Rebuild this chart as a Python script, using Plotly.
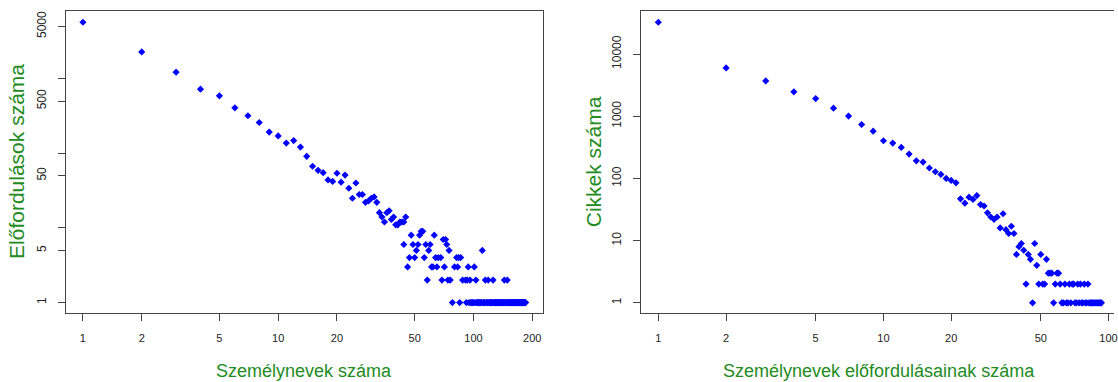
import plotly.graph_objects as go

# ---------------- data ----------------
# Left panel: Személynevek száma (x) vs Előfordulások száma (y)
left_x = [1, 2, 3, 4, 5, 6, 7, 8, 9, 10, 11, 12, 13, 14, 15, 16, 17, 18, 19, 20,
          21, 22, 23, 24, 25, 26, 27, 28, 29, 30, 31, 32, 33, 34, 35, 36, 37, 38, 39, 40,
          41, 42, 43, 44, 45,
          48, 53, 63,            # y=8
          54, 55,                # y=9
          70, 72,                # y=7
          44, 49, 52, 57, 60, 73,  # y=6
          51, 59, 75, 111,       # y=5
          47, 50, 56, 64, 66, 68, 82, 84, 86,  # y=4
          46, 61, 62, 65, 71, 80, 83, 94, 101,  # y=3
          58, 69, 74, 76, 88, 91, 93, 96, 103, 115, 119, 126, 144, 149,  # y=2
          78, 85, 92, 95, 97, 98, 99, 100, 102, 104, 105, 106, 107, 108, 109, 110,
          112, 113, 114, 116, 117, 118, 120, 121, 122, 123, 124, 125, 127, 128, 129,
          130, 131, 132, 133, 134, 135, 136, 137, 138, 139, 140, 141, 142, 143, 145,
          146, 147, 148, 150, 151, 152, 153, 154, 155, 156, 157, 158, 159, 160, 161,
          162, 163, 164, 165, 166, 167, 168, 169, 170, 171, 172, 173, 174, 175, 176,
          177, 178, 179, 180, 181, 182, 183, 184, 185]
left_y = [5690, 2280, 1220, 722, 588, 406, 318, 258, 192, 171, 137, 148, 121, 91, 67, 59, 55, 44, 42, 54,
          41, 51, 34, 25, 40, 28, 28, 22, 23, 25, 26, 22, 16, 14, 12, 16, 17, 13, 14, 11,
          11, 12, 12, 12, 14,
          8, 8, 8,
          9, 9,
          7, 7,
          6, 6, 6, 6, 6, 6,
          5, 5, 5, 5,
          4, 4, 4, 4, 4, 4, 4, 4, 4,
          3, 3, 3, 3, 3, 3, 3, 3, 3,
          2, 2, 2, 2, 2, 2, 2, 2, 2, 2, 2, 2, 2, 2,
          1, 1, 1, 1, 1, 1, 1, 1, 1, 1, 1, 1, 1, 1, 1, 1,
          1, 1, 1, 1, 1, 1, 1, 1, 1, 1, 1, 1, 1, 1, 1,
          1, 1, 1, 1, 1, 1, 1, 1, 1, 1, 1, 1, 1, 1, 1,
          1, 1, 1, 1, 1, 1, 1, 1, 1, 1, 1, 1, 1, 1, 1,
          1, 1, 1, 1, 1, 1, 1, 1, 1, 1, 1, 1, 1, 1, 1,
          1, 1, 1, 1, 1, 1, 1, 1, 1]

# Right panel: Személynevek előfordulásainak száma (x) vs Cikkek száma (y)
right_x = [1, 2, 3, 4, 5, 6, 7, 8, 9, 10, 11, 12, 13, 14, 15, 16, 17, 18, 19, 20,
           21, 22, 23, 24, 25, 26, 27, 28, 29, 30, 31, 32, 33, 34, 35, 36, 37, 38, 39, 40,
           41, 42, 43, 44, 45, 46, 47, 48, 49, 50, 51, 52, 53, 54, 55, 56, 57, 58, 59, 60,
           61, 62, 63, 64, 65, 66, 67, 68, 69, 70, 71, 72, 73, 74, 75, 76, 77, 78, 79, 80,
           81, 82, 83, 84, 85, 86, 87, 88, 89, 90, 91, 92, 93]
right_y = [32400, 5980, 3700, 2465, 1923, 1349, 1004, 736, 576, 403, 370, 315, 246, 192, 183, 147, 128, 116, 100, 93,
           85, 47, 40, 50, 46, 53, 38, 36, 28, 24, 22, 24, 16, 27, 15, 13, 17, 13, 6, 8,
           9, 7, 2, 6, 5, 1, 9, 4, 2, 6, 2, 2, 5, 3, 3, 3, 1, 2, 3, 3,
           2, 1, 1, 2, 1, 1, 2, 1, 2, 2, 1, 1, 2, 1, 2, 1, 1, 2, 1, 1,
           2, 1, 1, 1, 1, 1, 1, 1, 1, 1, 1, 1, 1]

left_xticks = [1, 2, 5, 10, 20, 50, 100, 200]
left_yticks = [1, 5, 10, 50, 100, 500, 1000, 5000]
left_ytext = ["1", "5", "", "50", "", "500", "", "5000"]
right_xticks = [1, 2, 5, 10, 20, 50, 100]
right_yticks = [1, 10, 100, 1000, 10000]
right_ytext = ["1", "10", "100", "1000", "10000"]

left_xtitle = "Személynevek száma"
left_ytitle = "Előfordulások száma"
right_xtitle = "Személynevek előfordulásainak száma"
right_ytitle = "Cikkek száma"

# ---------------- figure ----------------
W, H = 1118, 382
ML, MR, MT, MB = 66, 0, 11, 68.5
PW = W - ML - MR
PH = H - MT - MB

FONT = "Liberation Sans, Arial, sans-serif"
GREEN = "#228B22"
LINE = "#444444"
MARK = dict(symbol="diamond", size=5.5, color="#0000FF", line=dict(width=0))

fig = go.Figure()
fig.add_trace(go.Scatter(x=left_x, y=left_y, mode="markers", marker=MARK,
                         xaxis="x", yaxis="y", showlegend=False))
fig.add_trace(go.Scatter(x=right_x, y=right_y, mode="markers", marker=MARK,
                         xaxis="x2", yaxis="y2", showlegend=False))

def dom(px0, px1):
    return [(px0 - ML) / PW, (px1 - ML) / PW]

axis_common = dict(type="log", showgrid=False, zeroline=False, showline=True,
                   linecolor=LINE, linewidth=1, ticks="outside", ticklen=7,
                   tickwidth=1, tickcolor=LINE,
                   tickfont=dict(family=FONT, size=11, color="#222222"))

fig.update_layout(
    width=W, height=H, autosize=False,
    margin=dict(l=ML, r=MR, t=MT, b=MB, pad=0),
    paper_bgcolor="white", plot_bgcolor="white",
    font=dict(family=FONT),
    xaxis=dict(axis_common, domain=dom(66, 544.7), range=[-0.0867, 2.3556],
               tickvals=left_xticks, ticktext=[str(v) for v in left_xticks],
               mirror=True, anchor="y", ticklabelstandoff=8),
    yaxis=dict(axis_common, domain=[0, 1], range=[-0.140, 3.906],
               tickvals=left_yticks, ticktext=left_ytext, tickangle=-90,
               mirror=True, anchor="x", ticklabelstandoff=7,
               tickfont=dict(family=FONT, size=12, color="#222222")),
    xaxis2=dict(axis_common, domain=dom(643.3, 1118), range=[-0.0765, 2.0243],
                tickvals=right_xticks, ticktext=[str(v) for v in right_xticks],
                mirror=True, anchor="y2", ticklabelstandoff=8,
                ticklabeloverflow="allow"),
    yaxis2=dict(axis_common, domain=[0, 1], range=[-0.164, 4.692],
                tickvals=right_yticks, ticktext=right_ytext, tickangle=-90,
                mirror=False, anchor="x2", ticklabelstandoff=7,
                tickfont=dict(family=FONT, size=12, color="#222222")),
)

def px_x(p):
    return (p - ML) / PW

def px_y(p):
    return (H - MB - p) / PH

annots = [
    dict(text=left_xtitle, x=px_x(305), y=px_y(372), font=dict(size=18)),
    dict(text=right_xtitle, x=px_x(882), y=px_y(372), font=dict(size=18)),
    dict(text=left_ytitle, x=px_x(17), y=px_y(162), textangle=-90, font=dict(size=21)),
    dict(text=right_ytitle, x=px_x(595.5), y=px_y(162), textangle=-90, font=dict(size=21)),
]
for a in annots:
    a.update(xref="paper", yref="paper", showarrow=False, xanchor="center", yanchor="middle")
    a["font"].update(family=FONT, color=GREEN)
fig.update_layout(annotations=annots)

fig.write_html("out.html")
